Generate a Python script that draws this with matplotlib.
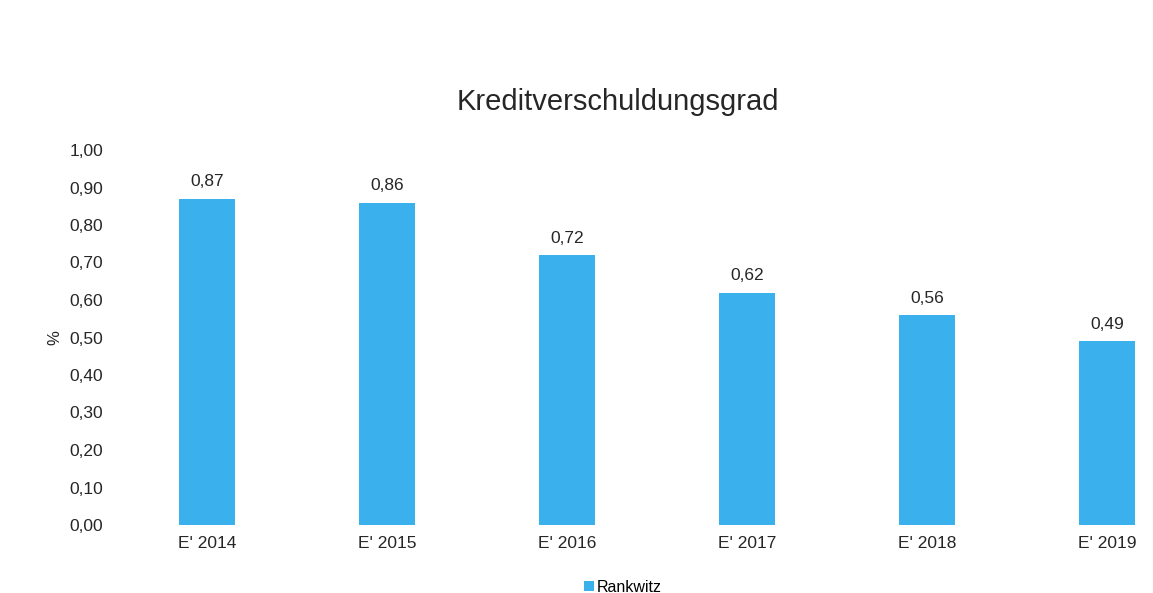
import matplotlib
matplotlib.use("Agg")
from matplotlib import pyplot as plt

plt.rcParams['font.family'] = ['Liberation Sans', 'DejaVu Sans']

categories = ["E' 2014", "E' 2015", "E' 2016", "E' 2017", "E' 2018", "E' 2019"]
values = [0.87, 0.86, 0.72, 0.62, 0.56, 0.49]
yticks = [0.0, 0.1, 0.2, 0.3, 0.4, 0.5, 0.6, 0.7, 0.8, 0.9, 1.0]
series_name = "Rankwitz"
bar_color = "#3AB0EC"
text_color = "#262626"

fig = plt.figure(figsize=(11.53, 5.93), dpi=100)
W, H = 1153, 593
ax = fig.add_axes([117 / W, (H - 525) / H, (W - 117) / W, (525 - 150) / H])

x = list(range(len(categories)))
bars = ax.bar(x, values, width=0.31, color=bar_color, label=series_name)
for xi, v in zip(x, values):
    ax.text(xi, v + 0.025, f"{v:.2f}".replace(".", ","), ha='center', va='bottom',
            fontsize=12.5, color=text_color)

ax.set_xlim(-0.5, (W - 207) / 180)
ax.set_ylim(0, 1.0)
ax.set_yticks(yticks)
ax.set_yticklabels([f"{t:.2f}".replace(".", ",") for t in yticks], fontsize=12.5, color=text_color)
ax.set_xticks(x)
ax.set_xticklabels(categories, fontsize=12.5, color=text_color)
ax.tick_params(length=0)
ax.tick_params(axis='x', pad=8)
ax.tick_params(axis='y', pad=10)
for s in ax.spines.values():
    s.set_visible(False)

fig.text(55 / W, 1 - 338 / H, "%", rotation=90, ha='center', va='center', fontsize=12, color=text_color)
fig.text(618 / W, 1 - 102 / H, "Kreditverschuldungsgrad", ha='center', va='center',
         fontsize=21, color=text_color)

fig.legend(handles=[bars], labels=[series_name], loc='center', bbox_to_anchor=(623 / W, 1 - 587 / H),
           frameon=False, fontsize=11.5, handlelength=0.6, handleheight=0.6, handletextpad=0.2)

fig.savefig("out.png", dpi=100)
